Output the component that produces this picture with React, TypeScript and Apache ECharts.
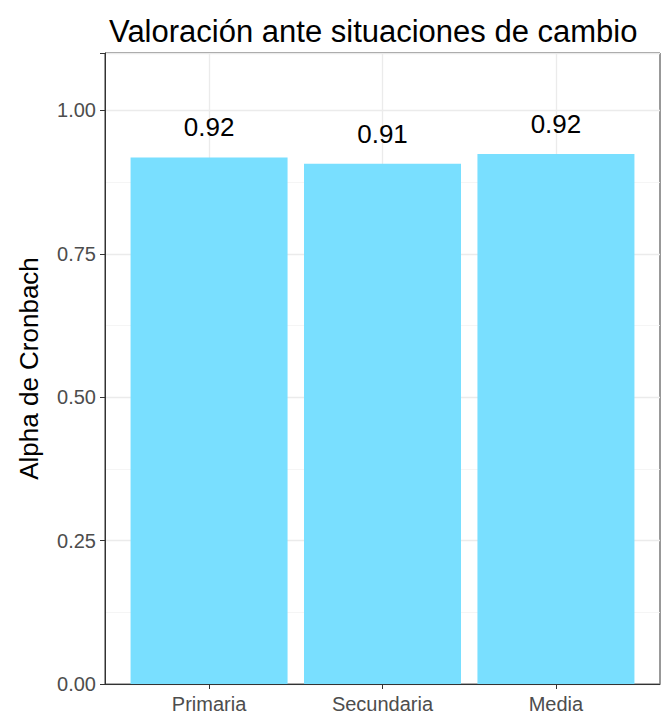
import React, { useEffect, useRef } from "react";
import * as echarts from "echarts";

const categories = ["Primaria", "Secundaria", "Media"];
const categoryPositions = [1, 2, 3];
const alphaValues = [0.918, 0.907, 0.924];
const labelTexts = ["0.92", "0.91", "0.92"];
const yTicks = [0, 0.25, 0.5, 0.75, 1.0];

export default function App() {
  const ref = useRef<HTMLDivElement>(null);
  useEffect(() => {
    if (!ref.current) return;
    const chart = echarts.init(ref.current, null, { renderer: "svg" });
    const font = "'Liberation Sans', Arial, sans-serif";
    chart.setOption({
      animation: false,
      backgroundColor: "#ffffff",
      title: {
        text: "Valoración ante situaciones de cambio",
        left: 104,
        top: 11,
        textStyle: { fontFamily: font, fontSize: 31, fontWeight: "normal", color: "#000" },
      },
      grid: {
        left: 105,
        right: 2,
        top: 53,
        bottom: 31,
        show: true,
        borderColor: "#333333",
        borderWidth: 1,
        backgroundColor: "transparent",
      },
      xAxis: {
        type: "value",
        min: 0.4,
        max: 3.6,
        axisLine: { show: true, onZero: false, lineStyle: { color: "#333333", width: 1 } },
        axisTick: {
          show: true,
          length: 5,
          customValues: categoryPositions,
          lineStyle: { color: "#333333" },
        },
        axisLabel: {
          fontFamily: font,
          fontSize: 20,
          color: "#4d4d4d",
          margin: 10,
          customValues: categoryPositions,
          formatter: (v: number) => categories[Math.round(v) - 1] ?? "",
        },
        splitLine: { show: false },
      },
      yAxis: {
        type: "value",
        min: 0,
        max: 1.1,
        interval: 0.25,
        name: "Alpha de Cronbach",
        nameLocation: "middle",
        nameGap: 63,
        nameTextStyle: { fontFamily: font, fontSize: 26, color: "#000" },
        axisLine: { show: true, lineStyle: { color: "#333333", width: 1 } },
        axisTick: { show: true, length: 5, lineStyle: { color: "#333333" } },
        axisLabel: {
          fontFamily: font,
          fontSize: 20,
          color: "#4d4d4d",
          margin: 9,
          formatter: (v: number) => (yTicks.includes(v) ? v.toFixed(2) : ""),
        },
        splitLine: { show: true, lineStyle: { color: "#ebebeb", width: 1.3 } },
        minorTick: { show: false, splitNumber: 2 },
        minorSplitLine: { show: true, lineStyle: { color: "#f3f3f3", width: 0.8 } },
      },
      series: [
        {
          type: "line",
          data: [],
          z: 1,
          silent: true,
          markLine: {
            z: 1,
            silent: true,
            symbol: "none",
            label: { show: false },
            lineStyle: { color: "#ebebeb", type: "solid", width: 1.3 },
            data: categoryPositions.map((p) => ({ xAxis: p })),
          },
        },
        {
          type: "bar",
          z: 3,
          data: categoryPositions.map((p, i) => [p, alphaValues[i]]),
          barWidth: 157,
          itemStyle: { color: "#79dfff" },
          label: {
            show: true,
            position: "top",
            distance: 17,
            fontFamily: font,
            fontSize: 26,
            color: "#000",
            formatter: (p: any) => labelTexts[p.dataIndex],
          },
        },
      ],
    });
    return () => chart.dispose();
  }, []);
  return (
    <div
      ref={ref}
      style={{ position: "fixed", left: 0, top: 0, width: 662, height: 715 }}
    />
  );
}
